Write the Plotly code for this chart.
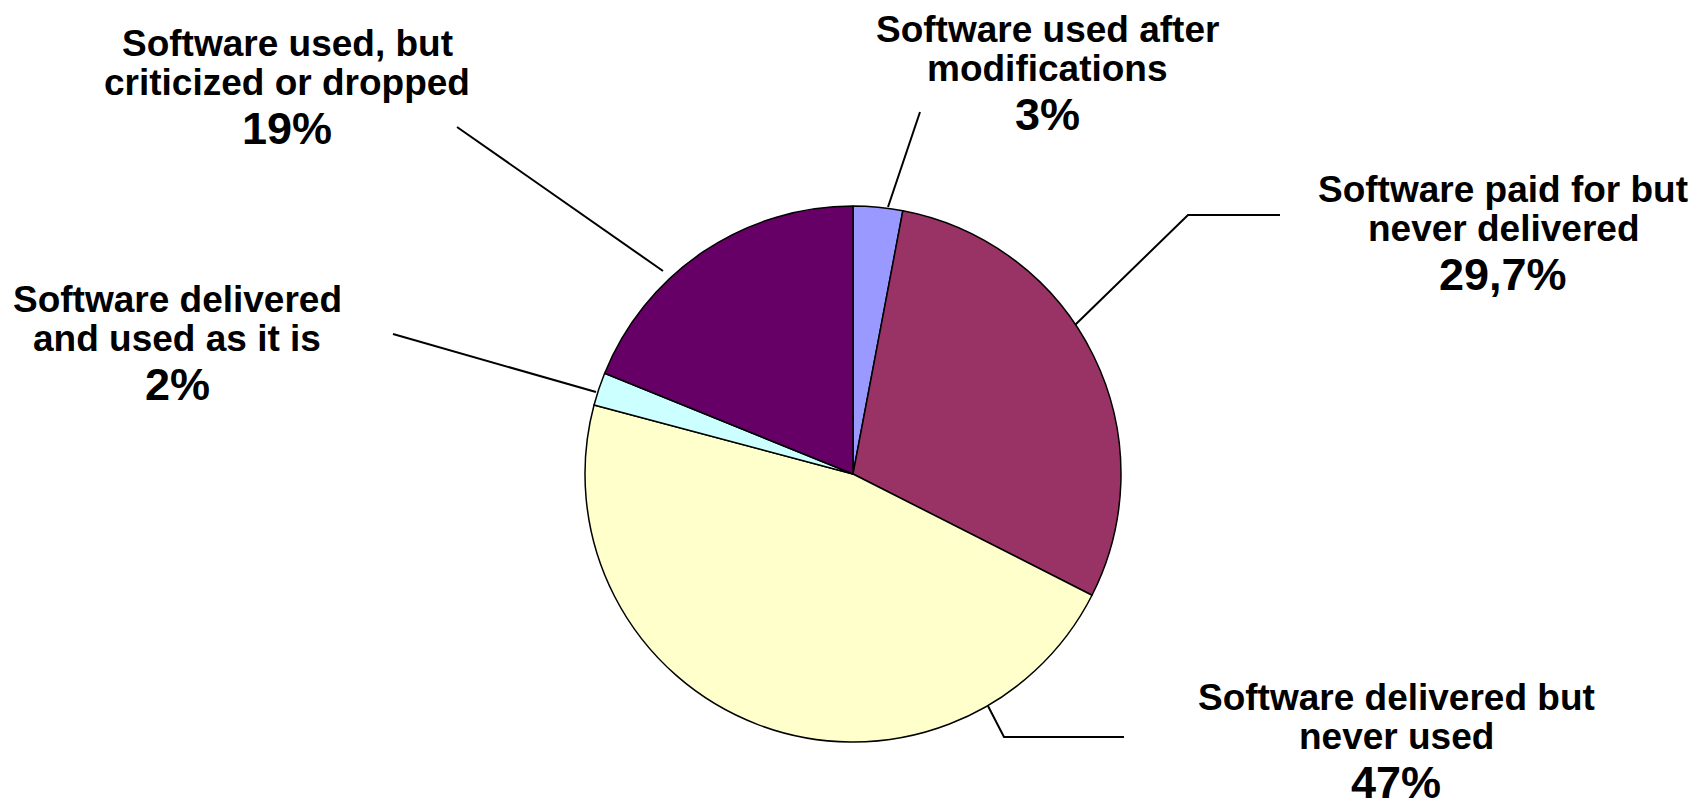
import plotly.graph_objects as go

# ---- data ----
categories = [
    "Software used after modifications",
    "Software paid for but never delivered",
    "Software delivered but never used",
    "Software delivered and used as it is",
    "Software used, but criticized or dropped",
]
label_lines = [
    ["Software used after", "modifications"],
    ["Software paid for but", "never delivered"],
    ["Software delivered but", "never used"],
    ["Software delivered", "and used as it is"],
    ["Software used, but", "criticized or dropped"],
]
values = [3, 29.7, 47, 2, 19]
colors = ["#9999FF", "#993366", "#FFFFCC", "#CCFFFF", "#660066"]

# ---- layout constants (pixels) ----
W, H = 1703, 809
CX, CY, R = 853, 474, 268
FONT = "Liberation Sans, Arial, sans-serif"
LABEL_SIZE = 37
PCT_SIZE = 45
# label centre x, baseline of first line (px)
label_pos = [
    (1047, 43),
    (1503, 203),
    (1396, 711),
    (177, 313),
    (287, 57),
]
# leader polylines (px)
leaders = [
    [(888, 207), (920, 112)],
    [(1075, 325), (1188, 215), (1280, 215)],
    [(988, 706), (1004, 737), (1124, 737)],
    [(596, 392), (393, 334)],
    [(663, 271), (457, 127)],
]
LINE_GAP = 39
PCT_GAP = 49


def fmt_pct(v):
    s = f"{v:g}%"
    return s.replace(".", ",")


fig = go.Figure()

fig.add_trace(go.Pie(
    labels=categories,
    values=values,
    sort=False,
    direction="clockwise",
    rotation=0,
    marker=dict(colors=colors, line=dict(color="black", width=1.5)),
    textinfo="none",
    hoverinfo="label+percent",
    showlegend=False,
    domain=dict(x=[(CX - R) / W, (CX + R) / W],
                y=[1 - (CY + R) / H, 1 - (CY - R) / H]),
))

for pts in leaders:
    fig.add_trace(go.Scatter(
        x=[p[0] for p in pts], y=[p[1] for p in pts],
        mode="lines", line=dict(color="black", width=2),
        hoverinfo="skip", showlegend=False,
    ))

annotations = []
for lines, v, (lx, ly) in zip(label_lines, values, label_pos):
    for i, t in enumerate(lines):
        annotations.append(dict(
            x=lx, y=ly + i * LINE_GAP - 0.36 * LABEL_SIZE, xref="x", yref="y",
            text=t, showarrow=False, xanchor="center", yanchor="middle",
            font=dict(family=FONT, size=LABEL_SIZE, color="black", weight="bold"),
        ))
    pb = ly + (len(lines) - 1) * LINE_GAP + PCT_GAP
    annotations.append(dict(
        x=lx, y=pb - 0.36 * PCT_SIZE, xref="x", yref="y",
        text=fmt_pct(v), showarrow=False, xanchor="center", yanchor="middle",
        font=dict(family=FONT, size=PCT_SIZE, color="black", weight="bold"),
    ))

fig.update_layout(
    width=W, height=H,
    margin=dict(l=0, r=0, t=0, b=0),
    paper_bgcolor="white", plot_bgcolor="rgba(0,0,0,0)",
    xaxis=dict(range=[0, W], visible=False, fixedrange=True, domain=[0, 1]),
    yaxis=dict(range=[H, 0], visible=False, fixedrange=True, domain=[0, 1]),
    annotations=annotations,
)

fig.write_html("out.html", config={"displayModeBar": False})
